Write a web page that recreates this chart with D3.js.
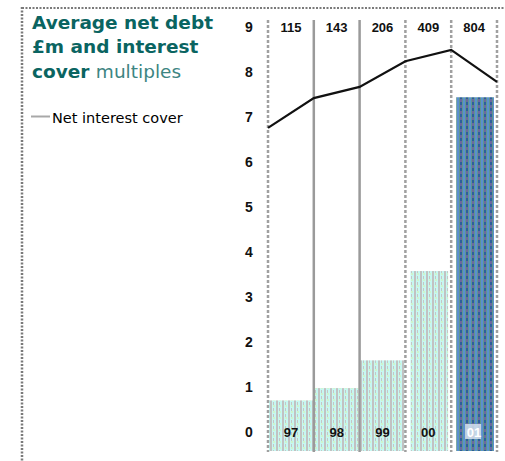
<!DOCTYPE html>
<html>
<head>
<meta charset="utf-8">
<script src="https://cdn.jsdelivr.net/npm/d3@7"></script>
<style>
  html, body { margin: 0; padding: 0; background: #fff; }
  svg { display: block; }
</style>
</head>
<body>
<svg id="chart" width="505" height="461"></svg>
<script>
// Years, average net debt (£m) and net interest cover multiples
const years = ["97", "98", "99", "00", "01"];
const netDebt = [115, 143, 206, 409, 804];
const debtLabels = ["115", "143", "206", "409", "804"];
// Interest cover read at each column boundary
const coverPoints = [6.76, 7.42, 7.67, 8.24, 8.49, 7.78];
const coverTicks = [0, 1, 2, 3, 4, 5, 6, 7, 8, 9];

const svg = d3.select("#chart");
const defs = svg.append("defs");

// Dithered fills for the bars
const light = defs.append("pattern").attr("id", "lightFill")
  .attr("width", 6).attr("height", 6).attr("patternUnits", "userSpaceOnUse");
light.append("rect").attr("width", 6).attr("height", 6).attr("fill", "#c6f7f2");
light.append("rect").attr("x", 0).attr("width", 2).attr("height", 6).attr("fill", "#c2c2c2");
light.append("rect").attr("x", 3).attr("y", 0).attr("width", 1).attr("height", 3).attr("fill", "#c6c6c6");
light.append("rect").attr("x", 3).attr("y", 3).attr("width", 2).attr("height", 2).attr("fill", "#cdf5cd");

const dark = defs.append("pattern").attr("id", "darkFill")
  .attr("width", 6).attr("height", 6).attr("patternUnits", "userSpaceOnUse");
dark.append("rect").attr("width", 6).attr("height", 6).attr("fill", "#5e968f");
dark.append("rect").attr("x", 1).attr("width", 2).attr("height", 6).attr("fill", "#5a8fcf");
dark.append("rect").attr("x", 4).attr("y", 0).attr("width", 2).attr("height", 3).attr("fill", "#2e5f9c");
dark.append("rect").attr("x", 4).attr("y", 3).attr("width", 2).attr("height", 3).attr("fill", "#6c68a0");

// Frame: dotted top and left rules
svg.append("line").attr("x1", 22).attr("x2", 505).attr("y1", 8).attr("y2", 8)
  .attr("stroke", "#7a7a7a").attr("stroke-width", 2).attr("stroke-dasharray", "2,1.5");
svg.append("line").attr("x1", 22).attr("x2", 22).attr("y1", 7).attr("y2", 461)
  .attr("stroke", "#7a7a7a").attr("stroke-width", 2.5).attr("stroke-dasharray", "2,1.5");

// Scales
const x = d3.scaleBand().domain(years).range([268, 497]).padding(0);
const yCover = d3.scaleLinear().domain([0, 9]).range([432, 27]);
const yDebt = d3.scaleLinear().domain([0, 1000]).range([451, 11]);
const xEdge = d3.scaleLinear().domain([0, years.length]).range([268, 497]);

// Bars
svg.append("g").selectAll("rect").data(years).join("rect")
  .attr("x", (d, i) => x(d) + (i >= 3 ? 5 : 1))
  .attr("width", (d, i) => x.bandwidth() - (i >= 3 ? 8 : 2))
  .attr("y", (d, i) => yDebt(netDebt[i]))
  .attr("height", (d, i) => yDebt(0) - yDebt(netDebt[i]))
  .attr("fill", (d, i) => i === years.length - 1 ? "url(#darkFill)" : "url(#lightFill)");

// Column rules
const edges = d3.range(years.length + 1);
svg.append("g").selectAll("line").data(edges).join("line")
  .attr("x1", d => xEdge(d)).attr("x2", d => xEdge(d))
  .attr("y1", 20).attr("y2", 452)
  .attr("stroke", d => (d === 1 || d === 2) ? "#9a9a9a" : "#a0a0a0")
  .attr("stroke-width", 2.5)
  .attr("stroke-dasharray", d => (d === 1 || d === 2) ? null : "3,2");

// Cover axis labels
const axis = d3.axisLeft(yCover).tickValues(coverTicks).tickSize(0).tickPadding(0)
  .tickFormat(d3.format("d"));
const axisG = svg.append("g").attr("transform", "translate(254,0)").call(axis);
axisG.select(".domain").remove();
axisG.selectAll("text").attr("font-family", "Liberation Sans, Arial, sans-serif")
  .attr("font-size", 14).attr("font-weight", "bold").attr("fill", "#111").attr("text-anchor", "middle")
  .attr("dx", -5);

// Net debt values above each column
svg.append("g").selectAll("text").data(years).join("text")
  .attr("x", d => x(d) + x.bandwidth() / 2)
  .attr("y", 32)
  .attr("text-anchor", "middle")
  .attr("font-family", "Liberation Sans, Arial, sans-serif")
  .attr("font-size", 13).attr("font-weight", "bold").attr("fill", "#111")
  .text((d, i) => debtLabels[i]);

// Year labels at the foot of each bar
const last = years[years.length - 1];
svg.append("rect")
  .attr("x", x(last) + x.bandwidth() / 2 - 9).attr("y", 424)
  .attr("width", 16).attr("height", 15).attr("fill", "#d6e2ee").attr("opacity", 0.85);
svg.append("g").selectAll("text").data(years).join("text")
  .attr("x", d => x(d) + x.bandwidth() / 2)
  .attr("y", 437)
  .attr("text-anchor", "middle")
  .attr("font-family", "Liberation Sans, Arial, sans-serif")
  .attr("font-size", 13).attr("font-weight", "bold")
  .attr("fill", d => d === last ? "#ffffff" : "#111")
  .text(d => d);

// Net interest cover line
const line = d3.line().x((d, i) => xEdge(i)).y(d => yCover(d));
svg.append("path").datum(coverPoints)
  .attr("d", line).attr("fill", "none")
  .attr("stroke", "#111").attr("stroke-width", 2.2);

// Title
const title = svg.append("text")
  .attr("font-family", "DejaVu Sans, Verdana, sans-serif")
  .attr("font-size", 18.5).attr("fill", "#0a6461");
title.append("tspan").attr("x", 32).attr("y", 29).attr("font-weight", "bold").text("Average net debt");
title.append("tspan").attr("x", 32).attr("y", 53).attr("font-weight", "bold").text("£m and interest");
title.append("tspan").attr("x", 32).attr("y", 78).attr("font-weight", "bold").text("cover ");
title.append("tspan").attr("fill", "#3d8582").text("multiples");

// Legend
svg.append("line").attr("x1", 31).attr("x2", 50).attr("y1", 116.5).attr("y2", 116.5)
  .attr("stroke", "#a8a8a8").attr("stroke-width", 2);
svg.append("text").attr("x", 52).attr("y", 123)
  .attr("font-family", "DejaVu Sans, Verdana, sans-serif")
  .attr("font-size", 14.5).attr("fill", "#000")
  .text("Net interest cover");
</script>
</body>
</html>
